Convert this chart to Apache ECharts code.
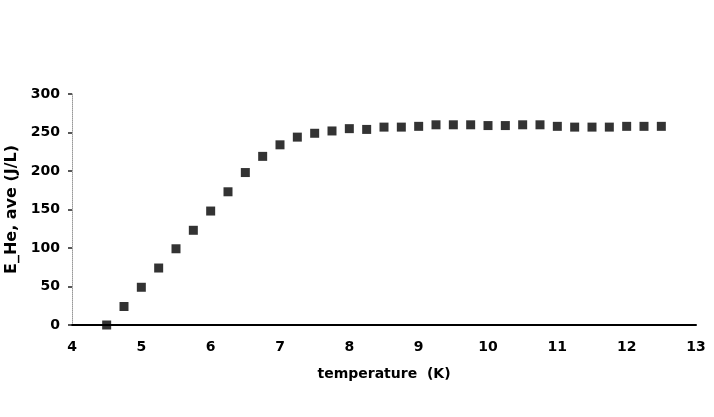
<!DOCTYPE html>
<html>
<head>
<meta charset="utf-8">
<script src="https://cdn.jsdelivr.net/npm/echarts@6/dist/echarts.min.js"></script>
<style>
  html, body { margin: 0; padding: 0; background: #fff; }
  #main { width: 714px; height: 417px; }
</style>
</head>
<body>
<div id="main"></div>
<script>
// temperature (K) and averaged helium energy (J/L)
const temperature = [4.5, 4.75, 5, 5.25, 5.5, 5.75, 6, 6.25, 6.5, 6.75, 7, 7.25, 7.5, 7.75, 8,
  8.25, 8.5, 8.75, 9, 9.25, 9.5, 9.75, 10, 10.25, 10.5, 10.75, 11, 11.25, 11.5, 11.75, 12, 12.25, 12.5];
const energy = [0, 24, 49, 74, 99, 123, 148, 173, 198, 219, 234, 244, 249, 252, 255,
  254, 257, 257, 258, 260, 260, 260, 259, 259, 260, 260, 258, 257, 257, 257, 258, 258, 258];

const xTicks = [4, 5, 6, 7, 8, 9, 10, 11, 12, 13];
const yTicks = [0, 50, 100, 150, 200, 250, 300];

const chart = echarts.init(document.getElementById('main'));

const points = temperature.map((t, i) => [t, energy[i]]);
const font = '"DejaVu Sans", Arial, sans-serif';

chart.setOption({
  animation: false,
  backgroundColor: '#fff',
  grid: { left: 72, right: 18, top: 94, bottom: 92, containLabel: false, outerBoundsMode: 'none' },
  xAxis: {
    type: 'value',
    min: xTicks[0],
    max: xTicks[xTicks.length - 1],
    interval: 1,
    name: 'temperature  (K)',
    nameLocation: 'middle',
    nameGap: 42,
    nameTextStyle: { fontFamily: font, fontWeight: 'bold', fontSize: 14, color: '#000' },
    axisLine: { lineStyle: { color: '#000', width: 2 } },
    axisTick: { show: false },
    splitLine: { show: false },
    axisLabel: { margin: 15, fontFamily: font, fontWeight: 'bold', fontSize: 14, color: '#000' }
  },
  yAxis: {
    type: 'value',
    min: yTicks[0],
    max: yTicks[yTicks.length - 1],
    interval: 50,
    name: 'E_He, ave (J/L)',
    nameLocation: 'middle',
    nameGap: 51,
    nameTextStyle: { fontFamily: font, fontWeight: 'bold', fontSize: 16, color: '#000' },
    axisLine: { show: true, lineStyle: { color: '#999', width: 1, type: 'dotted' } },
    axisTick: { show: true, length: 4, lineStyle: { color: '#222', width: 1.5 } },
    splitLine: { show: false },
    axisLabel: { margin: 12, fontFamily: font, fontWeight: 'bold', fontSize: 14, color: '#000' }
  },
  series: [{
    type: 'scatter',
    data: points,
    symbol: 'rect',
    symbolSize: 9,
    itemStyle: { color: '#000' }
  }]
});
</script>
</body>
</html>
